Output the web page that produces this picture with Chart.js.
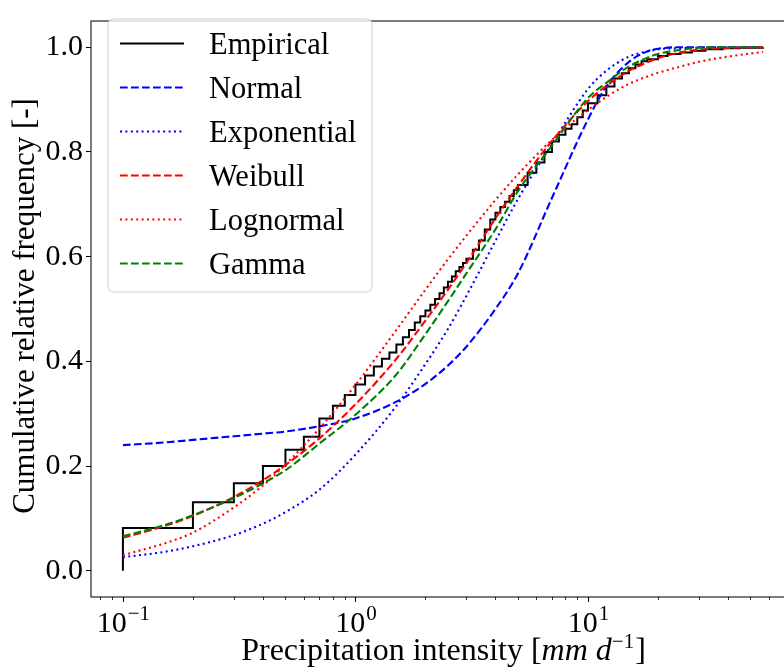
<!DOCTYPE html>
<html><head><meta charset="utf-8">
<script src="https://cdn.jsdelivr.net/npm/chart.js@4.4.1/dist/chart.umd.min.js"></script>
<style>html,body{margin:0;padding:0;overflow:hidden;background:#fff}#wrap{width:800px;height:670px;position:relative}</style>
</head><body><div id="wrap"><canvas id="c" width="800" height="670"></canvas></div>
<script>
// ---- data ----
const empX = [0.1,0.1,0.2,0.3,0.4,0.5,0.6,0.7,0.8,0.9,1.0,1.1,1.2,1.3,1.4,1.5,1.6,1.7,1.8,1.9,2.0,2.1,2.2,2.3,2.4,2.5,2.6,2.7,2.8,2.9,3.0,3.2,3.4,3.6,3.8,4.0,4.2,4.4,4.6,4.8,5.0,5.5,6.0,6.5,7.0,7.5,8.0,8.5,9.0,9.5,10,11,12,13,14,15,16,17,18,20,22,25,28,32,38,45,56.6];
const empY = [0,0.082,0.131,0.167,0.200,0.231,0.256,0.291,0.315,0.336,0.356,0.373,0.390,0.405,0.417,0.432,0.446,0.460,0.474,0.486,0.497,0.508,0.519,0.530,0.541,0.552,0.562,0.572,0.580,0.588,0.596,0.613,0.631,0.652,0.671,0.684,0.695,0.705,0.716,0.727,0.737,0.760,0.780,0.800,0.820,0.833,0.844,0.853,0.866,0.879,0.893,0.908,0.925,0.940,0.950,0.960,0.967,0.973,0.977,0.983,0.987,0.990,0.993,0.996,0.998,0.999,1.0];

const fitX = [0.1,0.15,0.2,0.3,0.4,0.5,0.7,1,1.5,2,2.5,3,4,5,7,10,12,15,18,20,25,30,40,56.6];
const normalY = [0.240,0.245,0.250,0.257,0.262,0.266,0.276,0.291,0.323,0.357,0.392,0.428,0.500,0.568,0.712,0.862,0.925,0.972,0.992,0.997,1.0,1.0,1.0,1.0];
const exponY  = [0.026,0.036,0.047,0.068,0.090,0.112,0.155,0.222,0.315,0.395,0.462,0.525,0.630,0.710,0.815,0.920,0.955,0.982,0.992,0.996,0.998,0.999,1.0,1.0];
const weibullY= [0.063,0.085,0.105,0.141,0.173,0.202,0.253,0.318,0.405,0.478,0.537,0.588,0.673,0.735,0.821,0.897,0.926,0.955,0.971,0.979,0.990,0.995,0.9986,0.9998];
const lognormY= [0.030,0.052,0.073,0.121,0.163,0.203,0.272,0.355,0.460,0.537,0.595,0.640,0.708,0.757,0.823,0.880,0.905,0.930,0.944,0.951,0.963,0.972,0.982,0.991];
const gammaY  = [0.066,0.087,0.106,0.139,0.167,0.192,0.243,0.298,0.375,0.452,0.515,0.568,0.652,0.725,0.812,0.903,0.932,0.963,0.980,0.987,0.995,0.999,1.0,1.0];

const yTickVals = [0.0,0.2,0.4,0.6,0.8,1.0];
const xMajorVals = [0.1,1,10];
const xMajorExp = ['\u22121','0','1'];
const xMinorVals = [0.08,0.09,0.2,0.3,0.4,0.5,0.6,0.7,0.8,0.9,2,3,4,5,6,7,8,9,20,30,40,50,60,70];

const labels = ['Empirical','Normal','Exponential','Weibull','Lognormal','Gamma'];

// ---- style ----
const FONT = "'Liberation Serif','Times New Roman',serif";
const FS = 30.5, FT = 30, SUP = 21, FXT = 32, FYT = 31;
const DASH = [7.7,3.3], DOT = [2,3.4];
const LW = 2.1;

function pts(xs, ys){ return xs.map((x,i)=>({x:x, y:ys[i]})); }

const framePlugin = {
  id:'frame',
  afterDatasetsDraw(chart){
    const c = chart.ctx, a = chart.chartArea, xs = chart.scales.x;
    c.save();
    c.strokeStyle = '#262626'; c.lineWidth = 1.2; c.setLineDash([]);
    c.strokeRect(a.left, a.top, a.right - a.left, a.bottom - a.top);
    c.strokeStyle = '#000';
    xMajorVals.forEach(v=>{ const p = Math.round(xs.getPixelForValue(v))+0.5; c.lineWidth=1.1; c.beginPath(); c.moveTo(p,a.bottom); c.lineTo(p,a.bottom+5); c.stroke(); });
    xMinorVals.forEach(v=>{ const p = Math.round(xs.getPixelForValue(v))+0.5; c.lineWidth=0.8; c.beginPath(); c.moveTo(p,a.bottom); c.lineTo(p,a.bottom+3); c.stroke(); });
    c.restore();
  },
  afterDraw(chart){
    const c = chart.ctx, a = chart.chartArea, xs = chart.scales.x;
    c.save();
    for (let i = 0; i < xMajorVals.length; i++) {
      const p = xs.getPixelForValue(xMajorVals[i]);
      c.font = FT + 'px ' + FONT; const w1 = c.measureText('10').width;
      c.font = SUP + 'px ' + FONT; const w2 = c.measureText(xMajorExp[i]).width;
      const s = p - (w1 + w2) / 2;
      c.fillStyle = '#000'; c.textAlign = 'left'; c.textBaseline = 'alphabetic';
      c.font = FT + 'px ' + FONT; c.fillText('10', s, a.bottom + 35);
      c.font = SUP + 'px ' + FONT; c.fillText(xMajorExp[i], s + w1 + 1, a.bottom + 23);
    }
    c.fillStyle = '#000';
    const parts = [
      {t:'Precipitation intensity [', f:FXT + 'px ' + FONT, dy:0},
      {t:'mm d', f:'italic ' + FXT + 'px ' + FONT, dy:0},
      {t:'\u22121', f:SUP + 'px ' + FONT, dy:-12},
      {t:']', f:FXT + 'px ' + FONT, dy:0}
    ];
    let tot = 0; parts.forEach(pp=>{ c.font=pp.f; pp.w=c.measureText(pp.t).width; tot+=pp.w; });
    let xx = (a.left+a.right)/2 - tot/2; const by = 660;
    parts.forEach(pp=>{ c.font=pp.f; c.fillStyle='#000'; c.fillText(pp.t, xx, by+pp.dy); xx+=pp.w+(pp.dy?1:0); });
    c.save();
    c.translate(34, (a.top+a.bottom)/2 - 3);
    c.rotate(-Math.PI/2);
    c.fillStyle = '#000';
    c.font = FYT + 'px ' + FONT; c.textAlign='center'; c.textBaseline='alphabetic';
    c.fillText('Cumulative relative frequency [-]', 0, 0);
    c.restore();
    const bx=108, byy=19, bw=264, bh=273, r=6;
    c.beginPath();
    c.moveTo(bx+r,byy); c.lineTo(bx+bw-r,byy); c.quadraticCurveTo(bx+bw,byy,bx+bw,byy+r);
    c.lineTo(bx+bw,byy+bh-r); c.quadraticCurveTo(bx+bw,byy+bh,bx+bw-r,byy+bh);
    c.lineTo(bx+r,byy+bh); c.quadraticCurveTo(bx,byy+bh,bx,byy+bh-r);
    c.lineTo(bx,byy+r); c.quadraticCurveTo(bx,byy,bx+r,byy); c.closePath();
    c.fillStyle='rgba(255,255,255,0.8)'; c.fill();
    c.strokeStyle='#d0d0d0'; c.lineWidth=1; c.stroke();
    chart.data.datasets.forEach((ds,i)=>{
      const y = 43.5 + 44*i;
      c.strokeStyle = ds.borderColor; c.lineWidth = ds.borderWidth; c.setLineDash(ds.borderDash||[]);
      c.beginPath(); c.moveTo(120,y); c.lineTo(184,y); c.stroke();
      c.setLineDash([]);
      c.fillStyle='#000'; c.font=FS + 'px ' + FONT; c.textAlign='left'; c.textBaseline='alphabetic';
      c.fillText(ds.label, 209, y+10);
    });
    c.restore();
  }
};

new Chart(document.getElementById('c').getContext('2d'), {
  type:'line',
  data:{datasets:[
    {label:labels[0], data:pts(empX,empY), borderColor:'#000000', borderWidth:2, stepped:'before', pointRadius:0, order:5},
    {label:labels[1], data:pts(fitX,normalY), borderColor:'#0000ff', borderWidth:LW, borderDash:DASH, cubicInterpolationMode:'monotone', pointRadius:0, order:4},
    {label:labels[2], data:pts(fitX,exponY), borderColor:'#0000ff', borderWidth:LW, borderDash:DOT, cubicInterpolationMode:'monotone', pointRadius:0, order:3},
    {label:labels[3], data:pts(fitX,weibullY), borderColor:'#ff0000', borderWidth:LW, borderDash:DASH, cubicInterpolationMode:'monotone', pointRadius:0, order:2},
    {label:labels[4], data:pts(fitX,lognormY), borderColor:'#ff0000', borderWidth:LW, borderDash:DOT, cubicInterpolationMode:'monotone', pointRadius:0, order:1},
    {label:labels[5], data:pts(fitX,gammaY), borderColor:'#008000', borderWidth:LW, borderDash:DASH, cubicInterpolationMode:'monotone', pointRadius:0, order:0}
  ]},
  options:{
    responsive:false, animation:false, devicePixelRatio:1,
    layout:{padding:{top:4,right:5,left:0,bottom:0}},
    plugins:{legend:{display:false}, tooltip:{enabled:false}, title:{display:false}},
    scales:{
      x:{type:'logarithmic', min:0.0729, max:77.7, grid:{display:false}, border:{display:false}, ticks:{display:false},
         afterFit(s){ s.height = 73; }},
      y:{type:'linear', min:-0.05, max:1.05,
         afterBuildTicks(s){ s.ticks = yTickVals.map(v=>({value:v})); },
         grid:{display:true, drawOnChartArea:false, drawTicks:true, tickLength:5, tickColor:'#000', tickWidth:1.1},
         border:{display:false},
         ticks:{padding:3, color:'#000', font:{family:FONT, size:FT}, callback:(v)=>Number(v).toFixed(1)},
         afterFit(s){ s.width = 91; }}
    }
  },
  plugins:[framePlugin]
});
</script></body></html>
